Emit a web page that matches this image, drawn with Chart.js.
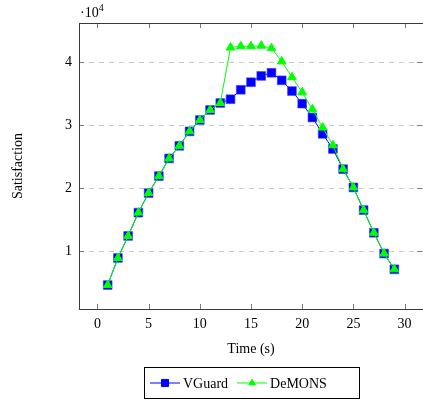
<!DOCTYPE html>
<html>
<head>
<meta charset="utf-8">
<script src="https://cdn.jsdelivr.net/npm/chart.js@4/dist/chart.umd.min.js"></script>
<style>
  html, body { margin: 0; padding: 0; background: #fff; }
  #wrap { width: 423px; height: 400px; }
</style>
</head>
<body>
<div id="wrap"><canvas id="satChart" width="423" height="400"></canvas></div>
<script>
const times = [1, 2, 3, 4, 5, 6, 7, 8, 9, 10, 11, 12, 13, 14, 15, 16, 17, 18, 19, 20, 21, 22, 23, 24, 25, 26, 27, 28, 29];
const vguard = [4600, 8900, 12400, 16100, 19200, 21900, 24700, 26700, 29000, 30800, 32400, 33500, 34100, 35600, 36800,
    37800, 38300, 37100, 35400, 33400, 31200, 28600, 26200, 23000, 20100, 16500, 12900, 9600, 7100];
const demons = [4600, 8900, 12400, 16100, 19200, 21900, 24700, 26700, 29000, 30800, 32400, 33500, 42300, 42500, 42500,
    42600, 42200, 40100, 37600, 35200, 32500, 29600, 26800, 23000, 20100, 16500, 12900, 9600, 7100];
const xTicks = [0, 5, 10, 15, 20, 25, 30];
const yTicks = [10000, 20000, 30000, 40000];
const seriesNames = ["VGuard", "DeMONS"];

const FONT = "'Liberation Serif', 'DejaVu Serif', serif";

function toPoints(ys) {
    return times.map((t, i) => ({ x: t, y: ys[i] }));
}

function drawMarker(ctx, style, x, y, r, color) {
    ctx.save();
    ctx.fillStyle = color;
    ctx.strokeStyle = color;
    ctx.lineWidth = 1;
    ctx.beginPath();
    if (style === 'rect') {
        const s = Math.SQRT1_2 * r;
        ctx.rect(x - s, y - s, 2 * s, 2 * s);
    } else {
        // triangle, same shape chart.js uses
        ctx.moveTo(x, y - r);
        ctx.lineTo(x + r * Math.sin(Math.PI / 3), y + r / 2);
        ctx.lineTo(x - r * Math.sin(Math.PI / 3), y + r / 2);
        ctx.closePath();
    }
    ctx.fill();
    ctx.stroke();
    ctx.restore();
}

const axisDecor = {
    id: 'axisDecor',
    beforeDatasetsDraw(chart) {
        const { ctx, chartArea: a, scales } = chart;
        ctx.save();
        ctx.strokeStyle = '#c8c8c8';
        ctx.lineWidth = 1;
        ctx.setLineDash([5, 5]);
        yTicks.forEach(v => {
            const py = Math.round(scales.y.getPixelForValue(v)) + 0.5;
            ctx.beginPath();
            ctx.moveTo(a.left, py);
            ctx.lineTo(a.right, py);
            ctx.stroke();
        });
        ctx.restore();
    },
    afterDraw(chart) {
        const { ctx, chartArea: a, scales } = chart;
        ctx.save();
        // tick marks inside the frame
        ctx.strokeStyle = '#7a7a7a';
        ctx.lineWidth = 1;
        xTicks.forEach(v => {
            const px = Math.round(scales.x.getPixelForValue(v)) + 0.5;
            ctx.beginPath();
            ctx.moveTo(px, a.bottom); ctx.lineTo(px, a.bottom - 5);
            ctx.moveTo(px, a.top); ctx.lineTo(px, a.top + 5);
            ctx.stroke();
        });
        yTicks.forEach(v => {
            const py = Math.round(scales.y.getPixelForValue(v)) + 0.5;
            ctx.beginPath();
            ctx.moveTo(a.left, py); ctx.lineTo(a.left + 5, py);
            ctx.moveTo(a.right - 1, py); ctx.lineTo(a.right - 6, py);
            ctx.stroke();
        });
        // frame (right side falls just past the canvas edge, as in the original)
        ctx.strokeStyle = '#3a3a3a';
        ctx.strokeRect(Math.round(a.left) + 0.5, Math.round(a.top) + 0.5,
            Math.round(a.right - a.left), Math.round(a.bottom - a.top));

        // multiplier label
        ctx.fillStyle = '#000';
        ctx.textBaseline = 'alphabetic';
        ctx.font = '14px ' + FONT;
        ctx.fillText('\u00b710', a.left + 1, a.top - 6);
        const w = ctx.measureText('\u00b710').width;
        ctx.font = '10px ' + FONT;
        ctx.fillText('4', a.left + 1 + w, a.top - 12);

        // legend box
        const lx = 144, ly = 367, lw = 215, lh = 31;
        ctx.strokeStyle = '#000';
        ctx.strokeRect(lx + 0.5, ly + 0.5, lw, lh);
        const cy = ly + lh / 2 + 0.5;
        ctx.font = '14px ' + FONT;
        ctx.textBaseline = 'middle';
        let x0 = lx + 6;
        chart.data.datasets.forEach((ds, i) => {
            const name = seriesNames[i];
            ctx.strokeStyle = ds.borderColor;
            ctx.lineWidth = 1;
            ctx.beginPath();
            ctx.moveTo(x0, cy); ctx.lineTo(x0 + 30, cy);
            ctx.stroke();
            drawMarker(ctx, ds.pointStyle, x0 + 15, cy, ds.pointStyle === 'rect' ? 5 : 3.8, ds.backgroundColor);
            ctx.fillStyle = '#000';
            ctx.fillText(name, x0 + 33, cy + 1);
            x0 += 33 + ctx.measureText(name).width + 9;
        });
        ctx.restore();
    }
};

const chart = new Chart(document.getElementById('satChart').getContext('2d'), {
    type: 'line',
    data: {
        datasets: [
            {
                label: seriesNames[0],
                data: toPoints(vguard),
                borderColor: '#0000ff',
                backgroundColor: '#0000ff',
                borderWidth: 1,
                pointStyle: 'rect',
                pointRadius: 6.2,
                pointBorderWidth: 1,
                pointBorderColor: 'rgba(60,60,255,0.6)',
                tension: 0,
                order: 1
            },
            {
                label: seriesNames[1],
                data: toPoints(demons),
                borderColor: '#00ff00',
                backgroundColor: '#00ff00',
                borderWidth: 1,
                pointStyle: 'triangle',
                pointRadius: 5,
                pointBorderWidth: 1,
                tension: 0,
                order: 0
            }
        ]
    },
    options: {
        responsive: false,
        animation: false,
        // no auto padding for the point markers, so the frame can run to the right edge
        layout: { autoPadding: false, padding: { top: 23, right: 0, bottom: 42, left: 0 } },
        plugins: { legend: { display: false }, tooltip: { enabled: false } },
        scales: {
            x: {
                type: 'linear',
                min: -1.8,
                max: 31.8,
                afterBuildTicks: s => { s.ticks = xTicks.map(v => ({ value: v })); },
                afterFit: s => { s.height = 49; },
                grid: { display: false, drawTicks: false },
                border: { display: false },
                ticks: { color: '#000', padding: 7, font: { family: FONT, size: 14 } },
                title: {
                    display: true,
                    text: 'Time (s)',
                    color: '#000',
                    padding: 0,
                    font: { family: FONT, size: 14 }
                }
            },
            y: {
                type: 'linear',
                min: 800,
                max: 46200,
                afterBuildTicks: s => { s.ticks = yTicks.map(v => ({ value: v })); },
                afterFit: s => { s.width = 79; },
                grid: { display: false, drawTicks: false },
                border: { display: false },
                ticks: {
                    color: '#000',
                    padding: 7,
                    font: { family: FONT, size: 14 },
                    callback: v => String(v / 10000)
                },
                title: {
                    display: true,
                    text: 'Satisfaction',
                    color: '#000',
                    padding: { top: 10 },
                    font: { family: FONT, size: 14 }
                }
            }
        }
    },
    plugins: [axisDecor]
});
</script>
</body>
</html>
